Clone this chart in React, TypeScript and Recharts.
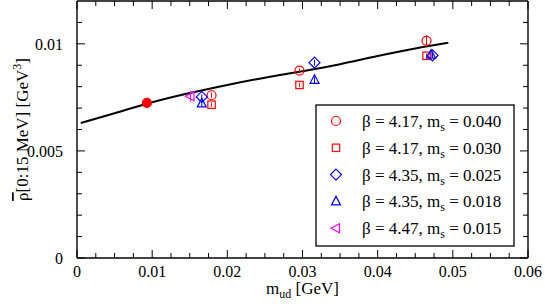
import {
  ComposedChart,
  ErrorBar,
  Legend,
  Line,
  ReferenceLine,
  Scatter,
  XAxis,
  YAxis,
} from "recharts"

// axis ticks
const xTicks = [0, 0.01, 0.02, 0.03, 0.04, 0.05, 0.06]
const xMinorTicks = [
  0.0025, 0.005, 0.0075, 0.0125, 0.015, 0.0175, 0.0225, 0.025, 0.0275,
  0.0325, 0.035, 0.0375, 0.0425, 0.045, 0.0475, 0.0525, 0.055, 0.0575,
]
const yTicks = [0, 0.005, 0.01]
const yMinorTicks = [0.001, 0.002, 0.003, 0.004, 0.006, 0.007, 0.008, 0.009, 0.011]

// fit curve
const fitM = [0.0005, 0.005, 0.01, 0.015, 0.02, 0.025, 0.03, 0.035, 0.04, 0.045, 0.0494]
const fitRho = [0.0063, 0.00676, 0.00727, 0.0077, 0.00808, 0.00842, 0.00872, 0.00905, 0.00943, 0.00978, 0.01005]

// chiral-limit point
const chiralM = [0.0093]
const chiralRho = [0.00724]

// beta = 4.17, ms = 0.040
const b417a_m = [0.0179, 0.0296, 0.0465]
const b417a_rho = [0.0076, 0.00875, 0.01014]
const b417a_err = [0.00013, 0.0001, 0.00027]

// beta = 4.17, ms = 0.030
const b417b_m = [0.0179, 0.0296, 0.0465]
const b417b_rho = [0.00716, 0.00808, 0.00944]
const b417b_err = [0.0001, 0.0001, 0.0001]

// beta = 4.35, ms = 0.025
const b435a_m = [0.0166, 0.0316, 0.0473]
const b435a_rho = [0.00752, 0.00912, 0.00946]
const b435a_err = [0.00012, 0.00014, 0.00012]

// beta = 4.35, ms = 0.018
const b435b_m = [0.0166, 0.0316, 0.0471]
const b435b_rho = [0.00722, 0.00832, 0.0095]
const b435b_err = [0.00014, 0.00015, 0.00013]

// beta = 4.47, ms = 0.015
const b447_m = [0.0151]
const b447_rho = [0.00755]
const b447_err = [0.00025]

const X_MAX = 0.06
const Y_MAX = 0.012
const W = 545
const H = 306
const margin = { top: 1, right: 17, left: 17, bottom: 18 }
const Y_AXIS_W = 60
const X_AXIS_H = 30
const plotW = W - margin.left - margin.right - Y_AXIS_W
const plotH = H - margin.top - margin.bottom - X_AXIS_H
const xPerPx = X_MAX / plotW
const yPerPx = Y_MAX / plotH

const FONT = "'Liberation Serif', 'Times New Roman', serif"
const RED = "#ff0000"
const BLUE = "#0000ff"
const MAGENTA = "#ff00ff"

type Kind = "circle" | "square" | "diamond" | "triangle" | "left"

function toPoints(m: number[], rho: number[], err?: number[]) {
  return m.map((v, i) => ({ m: v, rho: rho[i], err: err ? err[i] : 0 }))
}

const fitData = toPoints(fitM, fitRho)

const series = [
  { kind: "circle" as Kind, color: RED, beta: "4.17", ms: "0.040", data: toPoints(b417a_m, b417a_rho, b417a_err) },
  { kind: "square" as Kind, color: RED, beta: "4.17", ms: "0.030", data: toPoints(b417b_m, b417b_rho, b417b_err) },
  { kind: "diamond" as Kind, color: BLUE, beta: "4.35", ms: "0.025", data: toPoints(b435a_m, b435a_rho, b435a_err) },
  { kind: "triangle" as Kind, color: BLUE, beta: "4.35", ms: "0.018", data: toPoints(b435b_m, b435b_rho, b435b_err) },
  { kind: "left" as Kind, color: MAGENTA, beta: "4.47", ms: "0.015", data: toPoints(b447_m, b447_rho, b447_err) },
]

function Marker({ kind, cx, cy, color, filled }: { kind: Kind; cx: number; cy: number; color: string; filled?: boolean }) {
  const common = { fill: filled ? color : "none", stroke: color, strokeWidth: 1.2 }
  switch (kind) {
    case "circle":
      return <circle cx={cx} cy={cy} r={4.5} {...common} />
    case "square":
      return <rect x={cx - 3.7} y={cy - 3.7} width={7.4} height={7.4} {...common} />
    case "diamond":
      return <polygon points={`${cx},${cy - 5.5} ${cx + 5.5},${cy} ${cx},${cy + 5.5} ${cx - 5.5},${cy}`} {...common} />
    case "triangle":
      return <polygon points={`${cx},${cy - 5} ${cx + 4.5},${cy + 3.5} ${cx - 4.5},${cy + 3.5}`} {...common} />
    default:
      return <polygon points={`${cx - 5},${cy} ${cx + 3.5},${cy - 4.5} ${cx + 3.5},${cy + 4.5}`} {...common} />
  }
}

function LegendBox() {
  return (
    <svg width={200} height={143} style={{ display: "block" }}>
      <rect x={1} y={1} width={198} height={141} fill="#fff" stroke="#000" strokeWidth={1.3} />
      {series.map((s, i) => {
        const cy = 17 + i * 26.8
        return (
          <g key={i}>
            <Marker kind={s.kind} cx={21} cy={cy} color={s.color} />
            <text x={47} y={cy + 6} fontFamily={FONT} fontSize={17} fill="#000">
              {`β = ${s.beta}, m`}
              <tspan fontSize={12} dy={4}>s</tspan>
              <tspan dy={-4}>{` = ${s.ms}`}</tspan>
            </text>
          </g>
        )
      })}
    </svg>
  )
}

function tickLines() {
  const out: JSX.Element[] = []
  const add = (key: string, a: { x: number; y: number }, b: { x: number; y: number }) =>
    out.push(<ReferenceLine key={key} segment={[a, b]} stroke="#000" strokeWidth={1} ifOverflow="visible" />)
  const major = 8
  const minor = 5
  xTicks.forEach((v) => {
    add(`xb${v}`, { x: v, y: 0 }, { x: v, y: major * yPerPx })
    add(`xt${v}`, { x: v, y: Y_MAX }, { x: v, y: Y_MAX - major * yPerPx })
  })
  xMinorTicks.forEach((v) => {
    add(`xmb${v}`, { x: v, y: 0 }, { x: v, y: minor * yPerPx })
    add(`xmt${v}`, { x: v, y: Y_MAX }, { x: v, y: Y_MAX - minor * yPerPx })
  })
  yTicks.forEach((v) => {
    add(`yl${v}`, { x: 0, y: v }, { x: major * xPerPx, y: v })
    add(`yr${v}`, { x: X_MAX, y: v }, { x: X_MAX - major * xPerPx, y: v })
  })
  yMinorTicks.forEach((v) => {
    add(`yml${v}`, { x: 0, y: v }, { x: minor * xPerPx, y: v })
    add(`ymr${v}`, { x: X_MAX, y: v }, { x: X_MAX - minor * xPerPx, y: v })
  })
  return out
}

function XTick({ x, y, payload }: any) {
  const v = payload.value as number
  return (
    <text x={x} y={y} dy="0.71em" textAnchor="middle" fontFamily={FONT} fontSize={16} fill="#000">
      {v === 0 ? "0" : v.toFixed(2)}
    </text>
  )
}

function YTick({ x, y, payload }: any) {
  const v = payload.value as number
  return (
    <text x={x} y={y} dy="0.355em" textAnchor="end" fontFamily={FONT} fontSize={16} fill="#000">
      {v === 0 ? "0" : String(v)}
    </text>
  )
}

export default function App() {
  return (
    <div
      style={{
        position: "absolute",
        left: 0,
        top: 0,
        width: W,
        height: H,
        background: "#fff",
        fontFamily: FONT,
      }}
    >
      <ComposedChart width={W} height={H} margin={margin}>
        <XAxis
          dataKey="m"
          type="number"
          domain={[0, X_MAX]}
          ticks={xTicks}
          tickLine={false}
          tickSize={0}
          tickMargin={8}
          height={X_AXIS_H}
          axisLine={{ stroke: "#000", strokeWidth: 1.4 }}
          tick={<XTick />}
          allowDataOverflow
          label={{
            content: ({ viewBox }: any) => (
              <text
                x={viewBox.x + viewBox.width / 2}
                y={viewBox.y + 36}
                textAnchor="middle"
                fontFamily={FONT}
                fontSize={17}
                fill="#000"
              >
                m<tspan fontSize={12} dy={4}>ud</tspan>
                <tspan dy={-4}> [GeV]</tspan>
              </text>
            ),
          }}
        />
        <YAxis
          dataKey="rho"
          type="number"
          domain={[0, Y_MAX]}
          ticks={yTicks}
          tickLine={false}
          tickSize={0}
          tickMargin={14}
          width={Y_AXIS_W}
          axisLine={{ stroke: "#000", strokeWidth: 1.4 }}
          tick={<YTick />}
          allowDataOverflow
          label={{
            content: ({ viewBox }: any) => {
              const cx = 28
              const cy = viewBox.y + viewBox.height / 2
              return (
                <text
                  x={cx}
                  y={cy}
                  transform={`rotate(-90 ${cx} ${cy})`}
                  textAnchor="middle"
                  fontFamily={FONT}
                  fontSize={17}
                  fill="#000"
                >
                  <tspan style={{ textDecoration: "overline" }}>ρ</tspan>[0:15 MeV] [GeV
                  <tspan fontSize={12} dy={-7}>3</tspan>
                  <tspan dy={7}>]</tspan>
                </text>
              )
            },
          }}
        />
        <ReferenceLine y={Y_MAX} stroke="#000" strokeWidth={1.4} ifOverflow="visible" />
        <ReferenceLine x={X_MAX} stroke="#000" strokeWidth={1.4} ifOverflow="visible" />
        {tickLines()}
        <Line
          data={fitData}
          dataKey="rho"
          type="monotone"
          stroke="#000"
          strokeWidth={2}
          dot={false}
          isAnimationActive={false}
          legendType="none"
        />
        <Scatter
          data={toPoints(chiralM, chiralRho)}
          dataKey="rho"
          isAnimationActive={false}
          shape={(p: any) => <Marker kind="circle" cx={p.cx} cy={p.cy} color={RED} filled />}
        />
        {series.map((s, i) => (
          <Scatter
            key={i}
            data={s.data}
            dataKey="rho"
            isAnimationActive={false}
            shape={(p: any) => <Marker kind={s.kind} cx={p.cx} cy={p.cy} color={s.color} />}
          >
            <ErrorBar dataKey="err" direction="y" width={0} stroke={s.color} strokeWidth={1} />
          </Scatter>
        ))}
        <Legend
          layout="horizontal"
          verticalAlign="middle"
          align="center"
          wrapperStyle={{ position: "absolute", left: 315, top: 104, width: 200, height: 143 }}
          content={() => <LegendBox />}
        />
      </ComposedChart>
    </div>
  )
}
